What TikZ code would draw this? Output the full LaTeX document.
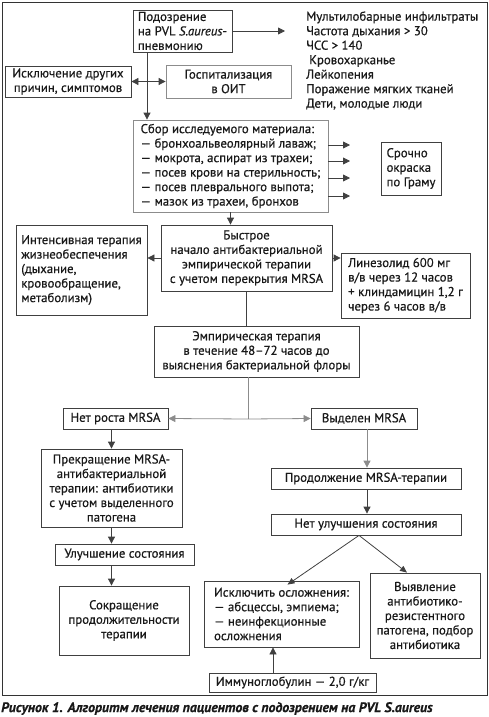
\documentclass[tikz,border=0pt]{standalone}
\usepackage{fontspec}
\setmainfont{PT Sans}[RawFeature={embolden=0.6}]
\usetikzlibrary{arrows.meta,calc}
\tikzset{
    every node/.style={inner sep=0pt, font=\fontsize{12.8}{14.5}\selectfont,
    	text=black!90}
}
\tikzset{
    box/.style={draw=black!75, line width=0.8pt, align=center},
    gbox/.style={box, draw=black!45},
    lbox/.style={box, align=left},
    link/.style={draw=black!75, line width=0.8pt},
    glink/.style={link, draw=black!45},
    tip/.style={-{Triangle[length=7pt,width=7pt]}}
}

\begin{document}
\begin{tikzpicture}[x=1pt, y=-1pt]
  \useasboundingbox (0,0) rectangle (489,717);
  \draw[black!80, line width=0.8pt] (2,2) rectangle (487,695);

  \node (susp) [lbox, minimum width=99, minimum height=42] at (182.5, 31)
    {Подозрение\\на PVL \textit{S.aureus}-\\пневмонию};
  \node (signs) [align=left, anchor=west] at (306, 60.5)
    {Мультилобарные инфильтраты\\Частота дыхания > 30\\ЧСС > 140\\
     \hspace{3pt}Кровохарканье\\Лейкопения\\Поражение мягких тканей\\
     Дети, молодые люди};
  \node (excl) [box, minimum width=126, minimum height=31] at (68, 81.5)
    {Исключение других\\причин, симптомов};
  \node (hosp) [gbox, minimum width=125, minimum height=33] at (228.5, 81.5)
    {Госпитализация\\в ОИТ};
  \node (sbor) [lbox, draw=black!45, minimum width=195, minimum height=92]
    at (230.5, 166)
    {Сбор исследуемого материала:\\— бронхоальвеолярный лаваж;\\
     — мокрота, аспират из трахеи;\\— посев крови на стерильность;\\
     — посев плеврального выпота;\\— мазок из трахеи, бронхов};
  \node (gram) [lbox, minimum width=60, minimum height=53] at (411, 168.5)
    {Срочно\\окраска\\по Граму};
  \node (intens) [lbox, minimum width=131, minimum height=90] at (81.5, 270)
    {Интенсивная терапия\\жизнеобеспечения\\(дыхание,\\кровообращение,\\
     метаболизм)};
  \node (fast) [box, minimum width=171, minimum height=66] at (246.5, 258)
    {Быстрое\\начало антибактериальной\\эмпирической терапии\\
     с учетом перекрытия MRSA};
  \node (linez) [lbox, minimum width=129, minimum height=65] at (405.5, 285.5)
    {Линезолид 600 мг\\в/в через 12 часов\\+ клиндамицин 1,2 г\\
     через 6 часов в/в};
  \node (empir) [box, minimum width=205, minimum height=51] at (256.5, 351.5)
    {Эмпирическая терапия\\в течение 48–72 часов до\\
     выяснения бактериальной флоры};
  \node (nogrow) [box, minimum width=105, minimum height=21] at (115.5, 418.5)
    {Нет роста MRSA};
  \node (found) [box, minimum width=106, minimum height=21] at (364, 418.5)
    {Выделен MRSA};
  \node (stop) [box, minimum width=141, minimum height=78] at (111.5, 488)
    {Прекращение MRSA-\\антибактериальной\\терапии: антибиотики\\
     с учетом выделенного\\патогена};
  \node (cont) [box, minimum width=190, minimum height=21] at (366, 478.5)
    {Продолжение MRSA-терапии};
  \node (noimpr) [box, minimum width=190, minimum height=21] at (366, 524.5)
    {Нет улучшения состояния};
  \node (impr) [box, minimum width=139, minimum height=21] at (124.5, 554.5)
    {Улучшение состояния};
  \node (short) [box, minimum width=130, minimum height=69] at (124, 620.5)
    {Сокращение\\продолжительности\\терапии};
  \node (compl) [lbox, minimum width=155, minimum height=66] at (281.5, 614)
    {Исключить осложнения:\\— абсцессы, эмпиема;\\— неинфекционные\\
     осложнения};
  \node (resist) [box, minimum width=110, minimum height=85] at (425, 615.5)
    {Выявление\\антибиотико-\\резистентного\\патогена, подбор\\
     антибиотика};
  \node (immuno) [box, minimum width=167, minimum height=19] at (292.5, 682.5)
    {Иммуноглобулин — 2,0 г/кг};
  \node (caption) [anchor=west, font=\fontsize{13.8}{15}\selectfont\bfseries\itshape]
    at (1, 708.5)
    {Рисунок 1. Алгоритм лечения пациентов с подозрением на PVL S.aureus};

  \coordinate (signs in) at (285, 31);
  \coordinate (trunk) at (147, 81.5);
  \coordinate (split) at (248, 419);

  \draw [link, tip] (susp.east) -- (signs in);
  \draw [link, tip] (susp.south -| trunk) -- (sbor.north -| trunk);
  \draw [link, tip] (trunk) -- (excl.east);
  \draw [link, tip] (trunk) -- (hosp.west);
  \foreach \y [count=\i] in {145,161,178,196} {
    \coordinate (out\i) at (350, \y);
    \draw [link, tip] (sbor.east |- out\i) -- (out\i);
  }
  \draw [link, tip] (sbor.south) -- (sbor.south |- fast.north);
  \draw [link, tip] (fast.west) -- (fast.west -| intens.east);
  \draw [link, tip] (fast.east) -- (fast.east -| linez.west);
  \draw [link] (fast.south) -- (fast.south |- empir.north);
  \draw [glink] (empir.south -| split) -- (split);
  \draw [glink, tip] (split) -- (nogrow.east);
  \draw [glink, tip] (split) -- (found.west);
  \draw [link, tip] (nogrow.south -| stop.north) -- (stop.north);
  \draw [glink, tip] ([xshift=3pt]found.south) -- ([xshift=1pt]cont.north);
  \draw [link, tip] ([xshift=1pt]cont.south) -- ([xshift=1pt]noimpr.north);
  \draw [link, tip] (stop.south) -- (stop.south |- impr.north);
  \draw [link, tip] (stop.south |- impr.south) -- (stop.south |- short.north);
  \draw [link, -{Triangle[length=7pt,width=6pt]}]
    ([xshift=-7pt]noimpr.south) -- ([xshift=6pt, yshift=-4pt]compl.north);
  \draw [link, -{Triangle[length=7pt,width=6pt]}]
    ([xshift=-7pt]noimpr.south) -- ([xshift=-18pt]resist.north);
  \draw [link, tip] ([xshift=-19.5pt]immuno.north) -- ([xshift=-8.5pt]compl.south);
\end{tikzpicture}
\end{document}
